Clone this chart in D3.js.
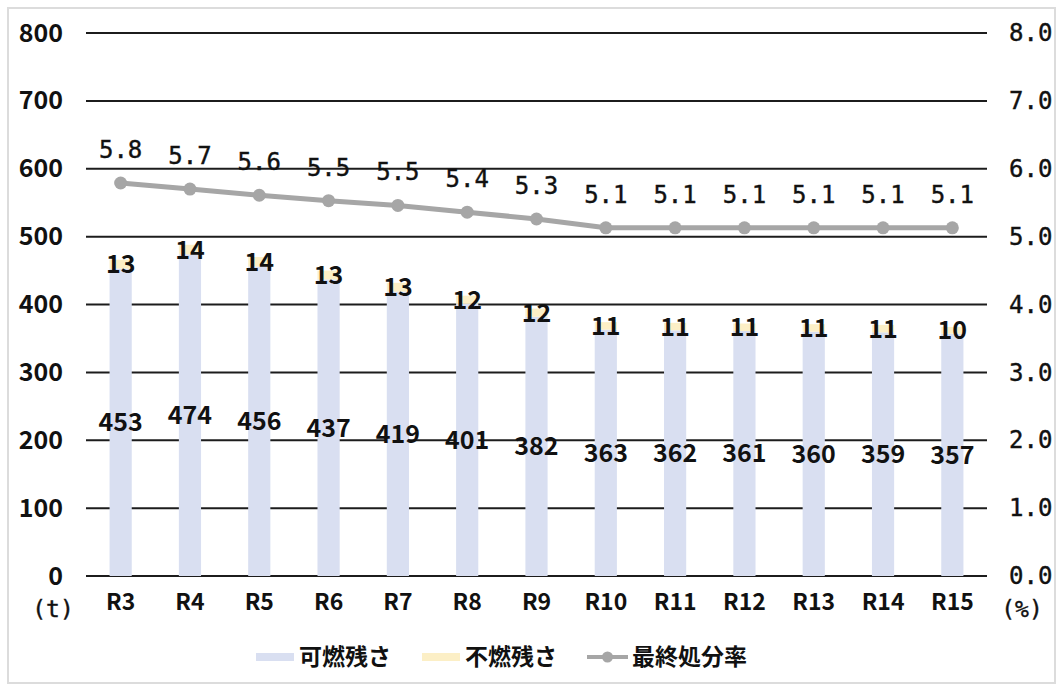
<!DOCTYPE html>
<html>
<head>
<meta charset="utf-8">
<script src="https://cdn.jsdelivr.net/npm/d3@7"></script>
<style>
	body { margin: 0; background: #fff; }
	.tick-l, .bar-label, .cat { font-family: "Noto Sans CJK JP", "Roboto", sans-serif; font-weight: 700; fill: #111; }
	.mono { font-family: "DejaVu Sans Mono", monospace; fill: #111; stroke: #111; stroke-width: 0.4px; }
	.legend text { font-family: "Noto Sans CJK JP", sans-serif; font-weight: 700; font-size: 23px; fill: #111; }
</style>
</head>
<body>
<svg id="viz"></svg>
<script>
/* data */
var years = ["R3", "R4", "R5", "R6", "R7", "R8", "R9", "R10", "R11", "R12", "R13", "R14", "R15"];
var burnable = [453, 474, 456, 437, 419, 401, 382, 363, 362, 361, 360, 359, 357];
var nonBurnable = [13, 14, 14, 13, 13, 12, 12, 11, 11, 11, 11, 11, 10];
var landfillRate = [5.79, 5.70, 5.61, 5.53, 5.46, 5.36, 5.26, 5.13, 5.13, 5.13, 5.13, 5.13, 5.13];
var leftTicks = [0, 100, 200, 300, 400, 500, 600, 700, 800];
var rightTicks = [0, 1, 2, 3, 4, 5, 6, 7, 8];
var seriesNames = ["可燃残さ", "不燃残さ", "最終処分率"];
var colors = ["#d9dff1", "#fcefc6", "#a6a6a6"];

/* create svg */
var margin = { top: 33, right: 72, bottom: 111, left: 86 },
	width = 1059 - margin.left - margin.right,
	height = 687 - margin.top - margin.bottom;

var svg = d3.select('#viz')
	.attr('width', width + margin.left + margin.right)
	.attr('height', height + margin.top + margin.bottom);

svg.append('rect')
	.attr('x', 8).attr('y', 8)
	.attr('width', 1047).attr('height', 675)
	.attr('fill', '#fff')
	.attr('stroke', '#dcdcdc')
	.attr('stroke-width', 2);

var g = svg.append('g')
	.attr('transform', 'translate(' + margin.left + ',' + margin.top + ')');

var x = d3.scaleBand()
	.domain(years)
	.range([0, width])
	.paddingInner(0.68)
	.paddingOuter(0.34);

var y = d3.scaleLinear()
	.domain([0, 800])
	.range([height, 0]);

var y2 = d3.scaleLinear()
	.domain([0, 8])
	.range([height, 0]);

var rows = years.map(function(yr, i){
	return { year: yr, burnable: burnable[i], nonBurnable: nonBurnable[i], rate: landfillRate[i] };
});

var stacked = d3.stack().keys(["burnable", "nonBurnable"])(rows);

// gridlines
g.append('g')
	.selectAll('line')
	.data(leftTicks)
	.enter().append('line')
	.attr('x1', 0).attr('x2', width)
	.attr('y1', function(d){ return y(d); })
	.attr('y2', function(d){ return y(d); })
	.attr('stroke', '#1c1c1c')
	.attr('stroke-width', 2);

// left axis labels
var yAxis = d3.axisLeft(y).tickValues(leftTicks).tickSize(0).tickPadding(23);
g.append('g')
	.call(yAxis)
	.call(function(a){ a.select('.domain').remove(); })
	.selectAll('text')
	.attr('class', 'tick-l')
	.style('font-size', '25px');

// right axis labels
var yAxis2 = d3.axisRight(y2).tickValues(rightTicks).tickSize(0).tickPadding(22)
	.tickFormat(d3.format('.1f'));
g.append('g')
	.attr('transform', 'translate(' + width + ',0)')
	.call(yAxis2)
	.call(function(a){ a.select('.domain').remove(); })
	.selectAll('text')
	.attr('class', 'mono')
	.style('font-size', '24px');

// category labels
var xAxis = d3.axisBottom(x).tickSize(0).tickPadding(18);
g.append('g')
	.attr('transform', 'translate(0,' + height + ')')
	.call(xAxis)
	.call(function(a){ a.select('.domain').remove(); })
	.selectAll('text')
	.attr('class', 'cat')
	.style('font-size', '23px');

// units
g.append('text')
	.attr('class', 'mono')
	.attr('x', -33).attr('y', height + 41)
	.attr('text-anchor', 'middle')
	.style('font-size', '23px')
	.text('(t)');
g.append('text')
	.attr('class', 'mono')
	.attr('x', width + 35).attr('y', height + 41)
	.attr('text-anchor', 'middle')
	.style('font-size', '23px')
	.text('(%)');

// bars
var layers = g.append('g')
	.selectAll('g')
	.data(stacked)
	.enter().append('g')
	.attr('fill', function(d, i){ return colors[i]; });

layers.selectAll('rect')
	.data(function(d){ return d; })
	.enter().append('rect')
	.attr('x', function(d){ return x(d.data.year); })
	.attr('width', x.bandwidth())
	.attr('y', function(d){ return y(d[1]); })
	.attr('height', function(d){ return y(d[0]) - y(d[1]); });

// bar labels
layers.selectAll('text')
	.data(function(d){ return d; })
	.enter().append('text')
	.attr('class', 'bar-label')
	.attr('x', function(d){ return x(d.data.year) + x.bandwidth() / 2; })
	.attr('y', function(d){ return y((d[0] + d[1]) / 2); })
	.attr('dy', '0.36em')
	.attr('text-anchor', 'middle')
	.style('font-size', '25px')
	.text(function(d){ return d[1] - d[0]; });

// rate line
var line = d3.line()
	.x(function(d){ return x(d.year) + x.bandwidth() / 2; })
	.y(function(d){ return y2(d.rate); });

g.append('path')
	.attr('d', line(rows))
	.attr('fill', 'none')
	.attr('stroke', colors[2])
	.attr('stroke-width', 5);

g.append('g')
	.selectAll('circle')
	.data(rows)
	.enter().append('circle')
	.attr('cx', function(d){ return x(d.year) + x.bandwidth() / 2; })
	.attr('cy', function(d){ return y2(d.rate); })
	.attr('r', 6.5)
	.attr('fill', colors[2]);

g.append('g')
	.selectAll('text')
	.data(rows)
	.enter().append('text')
	.attr('class', 'mono')
	.attr('x', function(d){ return x(d.year) + x.bandwidth() / 2; })
	.attr('y', function(d){ return y2(d.rate) - 25; })
	.attr('text-anchor', 'middle')
	.style('font-size', '24px')
	.text(function(d){ return d3.format('.1f')(d.rate); });

// legend
var legend = svg.append('g').attr('class', 'legend');
var legendX = [256, 422, 587];
var legendY = 657;

legend.selectAll('.swatch')
	.data([0, 1])
	.enter().append('rect')
	.attr('x', function(i){ return legendX[i]; })
	.attr('y', legendY - 4)
	.attr('width', 38).attr('height', 8)
	.attr('fill', function(i){ return colors[i]; });

legend.append('line')
	.attr('x1', legendX[2]).attr('x2', legendX[2] + 41)
	.attr('y1', legendY).attr('y2', legendY)
	.attr('stroke', colors[2]).attr('stroke-width', 4);
legend.append('circle')
	.attr('cx', legendX[2] + 20.5).attr('cy', legendY).attr('r', 5.5)
	.attr('fill', colors[2]);

legend.selectAll('text')
	.data(seriesNames)
	.enter().append('text')
	.attr('x', function(d, i){ return legendX[i] + (i < 2 ? 43 : 45); })
	.attr('y', legendY)
	.attr('dy', '0.36em')
	.text(function(d){ return d; });
</script>
</body>
</html>
